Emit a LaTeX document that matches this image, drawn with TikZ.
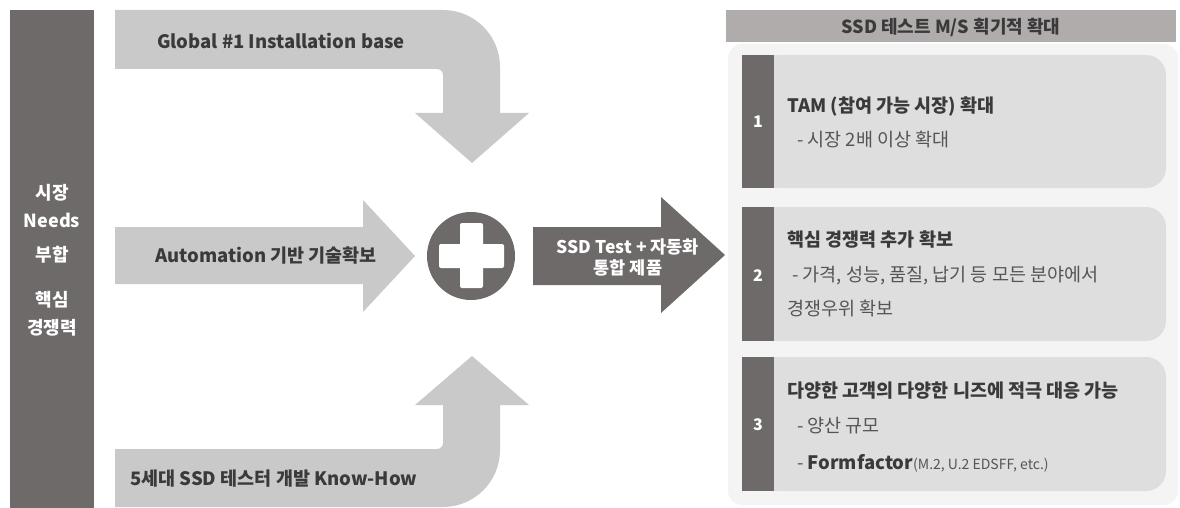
\documentclass[tikz,border=0pt]{standalone}
\usepackage{fontspec}
\setmainfont{Noto Sans CJK KR}
\definecolor{dk}{HTML}{6F6A6A}
\definecolor{lt}{HTML}{C9C9C9}
\definecolor{card}{HTML}{DEDEDE}
\definecolor{hdr}{HTML}{B1ACAC}
\definecolor{txt}{HTML}{3A3A3A}
\definecolor{sub}{HTML}{555555}
\definecolor{panel}{HTML}{F4F4F4}
\tikzset{
  lbl/.style={font=\bfseries\fontsize{18.5}{22}\selectfont, text=txt, inner sep=0pt},
  bartxt/.style={font=\bfseries\fontsize{18}{22}\selectfont, text=white, inner sep=0pt},
  ttl/.style={font=\bfseries\fontsize{18.5}{22}\selectfont, text=txt, inner sep=0pt, anchor=west},
  subt/.style={font=\fontsize{18.5}{22}\selectfont, text=sub, inner sep=0pt, anchor=west},
  num/.style={font=\bfseries\fontsize{16}{19}\selectfont, text=white, inner sep=0pt},
}
\begin{document}
\begin{tikzpicture}[x=1pt,y=-1pt]
\useasboundingbox (0,0) rectangle (1180,508);
% left bar
\fill[dk] (10,10) rectangle (94,508);
\node[bartxt] (l1) at (52,193) {시장};
\node[bartxt] (l2) at (52,220) {Needs};
\node[bartxt] (l3) at (52,255) {부합};
\node[bartxt] (l4) at (52,300) {핵심};
\node[bartxt] (l5) at (52,328) {경쟁력};
% top bent arrow
\fill[lt] (115,10) -- (443,10) arc[start angle=-90,end angle=0,radius=57]
  -- (500,113) -- (529,113) -- (472,163) -- (415,113) -- (443,113) -- (443,75)
  arc[start angle=0,end angle=-90,radius=6] -- (115,69) -- cycle;
% middle arrow
\fill[lt] (115,227) -- (363,227) -- (363,200) -- (415,256) -- (363,312) -- (363,284) -- (115,284) -- cycle;
% bottom bent arrow
\fill[lt] (115,507) -- (443,507) arc[start angle=90,end angle=0,radius=57]
  -- (500,405) -- (529,405) -- (472,356) -- (415,405) -- (443,405) -- (443,443)
  arc[start angle=0,end angle=90,radius=6] -- (115,449) -- cycle;
\node[lbl,anchor=west] (t1) at (157,41) {Global \#1 Installation base};
\node[lbl,anchor=west] (t2) at (155,256) {Automation 기반 기술확보};
\node[lbl,anchor=west] (t3) at (130,479) {5세대 SSD 테스터 개발 Know-How};
% plus circle
\fill[dk] (471,256) circle[radius=44];
\fill[white,rounded corners=2pt] (460,223) rectangle (483,288);
\fill[white,rounded corners=2pt] (439,244) rectangle (504,268);
% dark arrow
\fill[dk] (533,227) -- (661,227) -- (661,197) -- (725,255) -- (661,313) -- (661,285) -- (533,285) -- cycle;
\node[bartxt,align=center,font=\bfseries\fontsize{17.5}{21}\selectfont] (dt) at (628,257) {SSD Test + 자동화\\통합 제품};
% right panel
\fill[panel,rounded corners=14pt] (728,44) rectangle (1178,505);
\fill[hdr] (726,10) rectangle (1176,42);
\node[lbl,font=\bfseries\fontsize{18}{21}\selectfont] (hd) at (951,27) {SSD 테스트 M/S 획기적 확대};
% cards
\foreach \ya/\yb in {55/188, 207/341, 357/491}{
  \fill[card,rounded corners=20pt] (760,\ya) rectangle (1166,\yb);
  \fill[card] (760,\ya) rectangle (790,\yb);
  \fill[dk] (742,\ya) rectangle (774,\yb);
}
\node[num] (n1) at (758,122) {1};
\node[num] (n2) at (758,276) {2};
\node[num] (n3) at (758,425) {3};
\node[ttl] (c1a) at (787,107) {TAM (참여 가능 시장) 확대};
\node[subt] (c1b) at (797,140) {- 시장 2배 이상 확대};
\node[ttl] (c2a) at (787,240) {핵심 경쟁력 추가 확보};
\node[subt] (c2b) at (792,276) {- 가격, 성능, 품질, 납기 등 모든 분야에서};
\node[subt] (c2c) at (787,309) {경쟁우위 확보};
\node[ttl] (c3a) at (787,391) {다양한 고객의 다양한 니즈에 적극 대응 가능};
\node[subt] (c3b) at (797,426) {- 양산 규모};
\node[subt] (c3c) at (797,463) {- {\bfseries\color{txt}Formfactor}{\fontsize{14}{16}\selectfont(M.2, U.2 EDSFF, etc.)}};
\end{tikzpicture}
\end{document}
